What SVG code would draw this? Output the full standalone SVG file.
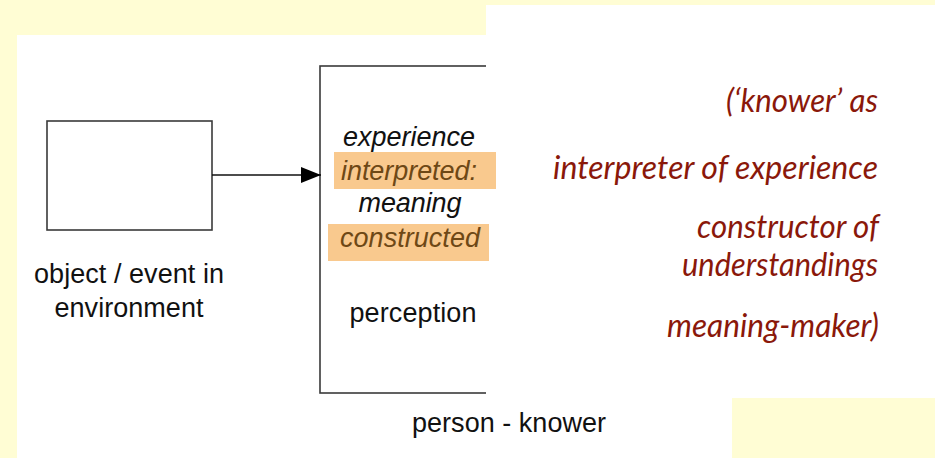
<svg xmlns="http://www.w3.org/2000/svg" width="935" height="458" viewBox="0 0 935 458">
<defs>
<style>
.bg{fill:#FFFDD4}
.wh{fill:#FFFFFF}
.box{fill:none;stroke:#3a3a3a;stroke-width:1.6}
.lbl{font-family:"Liberation Sans",Arial,sans-serif;font-size:27px;fill:#111}
.it{font-style:italic}
.hl{fill:#F9C98E}
.hlt{fill:#6e4816}
.red{font-family:Lato,"Open Sans",sans-serif;font-style:italic;font-size:33px;fill:#8a180a;text-anchor:end}
.conn{stroke:#111;stroke-width:1.6;fill:none}
</style>
<marker id="ah" markerWidth="22" markerHeight="18" refX="20" refY="8" orient="auto" markerUnits="userSpaceOnUse">
<polygon points="0,0 20,8 0,16" fill="#000"/>
</marker>
</defs>
<rect class="bg" x="0" y="0" width="935" height="458"/>
<rect class="wh" x="17" y="35" width="469" height="423"/>
<g id="object">
<rect class="box" x="47" y="121" width="165" height="109"/>
<text class="lbl" x="129" y="283" text-anchor="middle" textLength="190">object / event in</text>
<text class="lbl" x="129" y="317" text-anchor="middle" textLength="149">environment</text>
</g>
<g id="person-box">
<rect class="box" x="320" y="66" width="260" height="327"/>
</g>
<rect class="wh" x="486" y="5" width="449" height="453"/>
<rect class="bg" x="732" y="398" width="203" height="60"/>
<g id="connectors">
<line class="conn" x1="212" y1="175" x2="321" y2="175" marker-end="url(#ah)"/>
</g>
<g id="person">
<text class="lbl it" x="409" y="146" text-anchor="middle" textLength="132">experience</text>
<rect class="hl" x="334" y="152" width="162" height="37"/>
<text class="lbl it hlt" x="409" y="180" text-anchor="middle" textLength="136">interpreted:</text>
<text class="lbl it" x="410" y="212" text-anchor="middle" textLength="103">meaning</text>
<rect class="hl" x="328" y="224" width="161" height="37"/>
<text class="lbl it hlt" x="410" y="247" text-anchor="middle" textLength="140">constructed</text>
<text class="lbl" x="413" y="322" text-anchor="middle" textLength="127">perception</text>
<text class="lbl" x="509" y="432" text-anchor="middle" textLength="194">person - knower</text>
</g>
<g id="knower-note">
<text class="red" x="878" y="112" textLength="152" lengthAdjust="spacingAndGlyphs">(‘knower’ as</text>
<text class="red" x="878" y="179" textLength="325" lengthAdjust="spacingAndGlyphs">interpreter of experience</text>
<text class="red" x="879" y="238" textLength="182" lengthAdjust="spacingAndGlyphs">constructor of</text>
<text class="red" x="878" y="276" textLength="196" lengthAdjust="spacingAndGlyphs">understandings</text>
<text class="red" x="879" y="337" textLength="212" lengthAdjust="spacingAndGlyphs">meaning-maker)</text>
</g>
</svg>
